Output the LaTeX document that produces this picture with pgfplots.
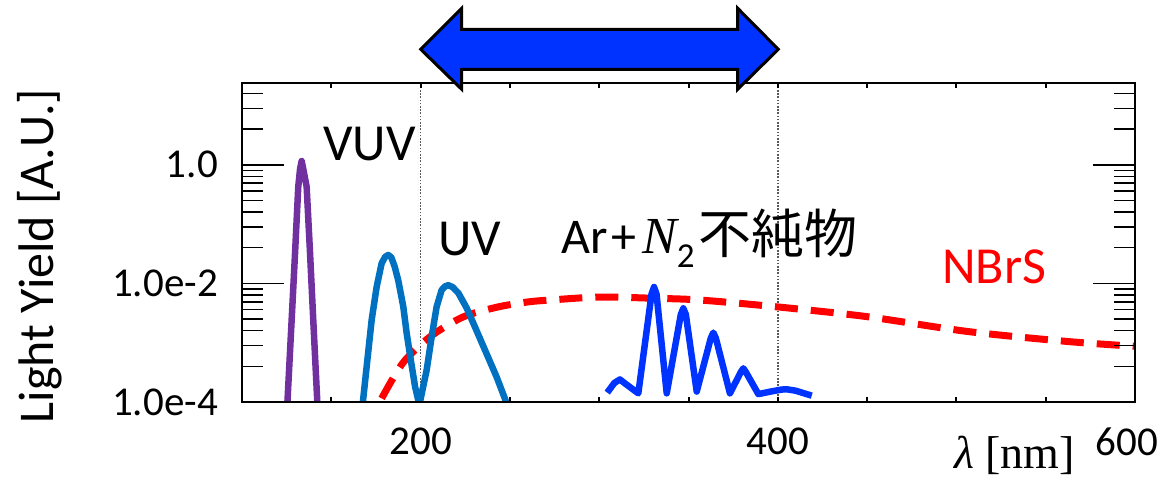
\documentclass[border=0pt]{standalone}
\usepackage{pgfplots}
\pgfplotsset{compat=1.18}
\usepackage{fontspec}
\setmainfont{Carlito}
\newfontfamily\cjk{Noto Sans CJK JP}
\newfontfamily\serif{Liberation Serif}
\definecolor{vuv}{RGB}{112,48,160}
\definecolor{uv}{RGB}{0,112,192}
\definecolor{arb}{RGB}{0,51,255}
\definecolor{arrowb}{RGB}{0,51,255}
\begin{document}
\begin{tikzpicture}
\useasboundingbox (0,0) rectangle (1171pt,-492pt);
% axis with the data and the x ticks
\begin{axis}[
  at={(242pt,-402pt)}, anchor=south west,
  scale only axis, width=893pt, height=319pt,
  xmin=100, xmax=600,
  ymode=log, ymin=1e-4, ymax=24,
  axis line style={line width=2.5pt},
  tick align=inside,
  tick label style={font=\fontsize{41}{48}\selectfont},
  ytick=\empty, yminorticks=false,
  xtick={150,200,...,600},
  xticklabels={,200,,,,400,,,,600\kern16pt},
  major tick length=5pt,
  xtick style={line width=2pt, black},
  extra x ticks={200,400},
  extra x tick labels={},
  extra x tick style={grid=major,
     major grid style={black!65, line width=1.6pt, dash pattern=on 1.6pt off 1.6pt}},
  xticklabel style={inner sep=0pt, yshift=-26pt},
  xlabel={{\serif\itshape λ} {\serif [nm]}},
  xlabel style={at={(axis description cs:0.798,-0.207)}, anchor=base west, inner sep=0pt, font=\fontsize{46}{52}\selectfont},
]
% NBrS
\addplot[red, line width=7pt, dash pattern=on 23pt off 13pt, smooth] coordinates {
(178.2,1.15e-4) (190.1,4.57e-4) (205.3,1.26e-3) (223.7,2.71e-3) (242.8,3.98e-3)
(259.6,4.85e-3) (272.5,5.25e-3) (300.4,5.89e-3) (330.3,5.62e-3) (356.4,5.25e-3)
(401.2,3.98e-3) (450,2.75e-3) (506,1.55e-3) (562,1.05e-3) (600,8.7e-4)};
% VUV
\addplot[vuv, line width=6.5pt, line join=round] coordinates {
(125.4,9.5e-5) (127.8,2.42e-3) (129.7,3.24e-2) (131.5,0.427) (132.5,0.85) (133.4,1.16)
(134.3,0.85) (136.2,0.427) (138.1,3.24e-2) (139.9,2.42e-3) (142.2,9.5e-5)};
% UV
\addplot[uv, line width=6.5pt, line join=round] coordinates {
(167.6,9.5e-5) (170.2,5.13e-4) (172.6,2.42e-3) (175.4,8.79e-3) (178.2,2.19e-2) (180.2,2.82e-2)
(181.9,3.02e-2) (183.6,2.75e-2) (185.5,1.91e-2) (187.5,1.12e-2) (190.3,4.07e-3) (192.2,1.45e-3)
(194.5,5.13e-4) (196.9,1.82e-4) (199.3,8.9e-5) (203.4,3.47e-4) (206.2,1.26e-3) (209.0,4.07e-3)
(211.8,7.76e-3) (213.7,8.91e-3) (215.5,9.33e-3) (217.8,8.71e-3) (221.1,6.92e-3) (225.8,3.85e-3)
(231.4,1.58e-3) (237.0,6.46e-4) (242.6,2.63e-4) (248.2,9.5e-5)};
% Ar + N2
\addplot[arb, line width=6.5pt, line join=round] coordinates {
(304.5,1.44e-4) (308.5,2.1e-4) (311.6,2.4e-4) (314.5,2.05e-4) (321.9,1.4e-4)
(329.3,6.6e-3) (330.7,8.7e-3) (332.1,6.6e-3) (337.8,1.4e-4)
(345.7,3.0e-3) (347.1,3.8e-3) (348.5,3.0e-3) (354.6,1.5e-4)
(362.5,1.2e-3) (363.9,1.48e-3) (365.3,1.2e-3) (373.2,1.4e-4)
(379.3,3.2e-4) (380.7,3.7e-4) (382.1,3.2e-4) (389.1,1.36e-4)
(396,1.5e-4) (402,1.62e-4) (405,1.64e-4) (410,1.55e-4) (419,1.28e-4)};
\end{axis}
% axis with the y tick labels and the y ticks
\begin{axis}[
  at={(242pt,-402pt)}, anchor=south west,
  scale only axis, width=893pt, height=319pt,
  xmin=100, xmax=600,
  ymode=log, ymin=1e-4, ymax=24,
  axis line style={line width=2.5pt},
  tick align=inside,
  tick label style={font=\fontsize{41}{48}\selectfont},
  xtick=\empty, xmajorticks=false, xminorticks=false,
  ytick={1e-4,1e-2,1},
  yticklabels={1.0e-4,1.0e-2,1.0},
  minor ytick={4e-4,9e-4,1.6e-3,2.5e-3,3.6e-3,4.9e-3,6.4e-3,8.1e-3,0.04,0.09,0.16,0.25,0.36,0.49,0.64,0.81,4,9,16},
  major tick length=42pt, minor tick length=21pt,
  ytick style={line width=1.5pt, black},
  yticklabel style={inner sep=0pt, xshift=-24pt},
  ylabel={Light Yield [A.U.]},
  ylabel style={at={(axis description cs:-0.2116,0.4577)}, anchor=base, inner sep=0pt, font=\fontsize{50}{58}\selectfont},
]
% long tick marks at the labelled values, on both sides
\draw[line width=1.5pt, black] (axis cs:100,1e-2) -- ++(42pt,0pt);
\draw[line width=1.5pt, black] (axis cs:100,1) -- ++(42pt,0pt);
\draw[line width=1.5pt, black] (axis cs:600,1e-2) -- ++(-42pt,0pt);
\draw[line width=1.5pt, black] (axis cs:600,1) -- ++(-42pt,0pt);
\end{axis}
% labels
\node[anchor=base west, inner sep=0pt, font=\fontsize{52}{60}\selectfont] at (323pt,-160.7pt) {VUV};
\node[anchor=base west, inner sep=0pt, font=\fontsize{52}{60}\selectfont] at (438pt,-255pt) {UV};
\node[anchor=base west, inner sep=0pt, font=\fontsize{50}{58}\selectfont] at (561.7pt,-253.3pt) {Ar\kern3pt+\kern6pt{\serif\itshape\fontsize{52}{58}\selectfont N}\textsubscript{2}\kern3pt{\cjk\fontsize{53}{58}\selectfont 不純物}};
\node[anchor=base west, inner sep=0pt, text=red, font=\fontsize{52}{60}\selectfont] at (942pt,-283pt) {NBrS};
% double arrow
\draw[line width=3pt, fill=arrowb, line join=miter]
 (420.7pt,-49.3pt) -- (461.7pt,-8.3pt) -- (461.7pt,-29.3pt) -- (737.7pt,-29.3pt) -- (737.7pt,-8.3pt)
 -- (778.3pt,-49.3pt) -- (737.7pt,-89.3pt) -- (737.7pt,-69.3pt) -- (461.7pt,-69.3pt) -- (461.7pt,-89.3pt) -- cycle;
\end{tikzpicture}
\end{document}
